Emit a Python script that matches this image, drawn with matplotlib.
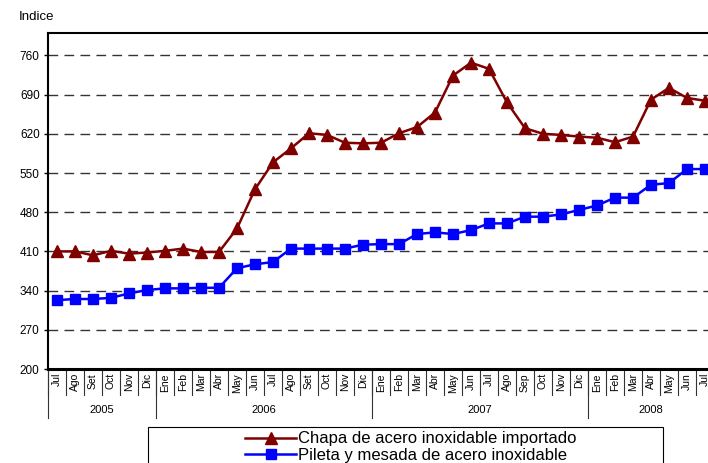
import numpy as np
import matplotlib
matplotlib.use("Agg")
import matplotlib.pyplot as plt
from matplotlib.lines import Line2D
from matplotlib.patches import Rectangle

plt.rcParams["font.family"] = ["Liberation Sans", "DejaVu Sans"]

# ── Data ─────────────────────────────────────────────────────────────────────
months = ["Jul", "Ago", "Set", "Oct", "Nov", "Dic",
          "Ene", "Feb", "Mar", "Abr", "May", "Jun", "Jul", "Ago", "Set", "Oct", "Nov", "Dic",
          "Ene", "Feb", "Mar", "Abr", "May", "Jun", "Jul", "Ago", "Sep", "Oct", "Nov", "Dic",
          "Ene", "Feb", "Mar", "Abr", "May", "Jun", "Jul"]
years = ["2005", "2006", "2007", "2008"]
year_counts = [6, 12, 12, 7]

chapa = [410, 410, 403, 411, 406, 408,
         411, 415, 409, 409, 451, 521, 569, 594, 621, 618, 604, 603,
         604, 621, 632, 658, 724, 747, 736, 676, 630, 620, 618, 615,
         613, 605, 615, 681, 702, 684, 679]
pileta = [323, 325, 325, 327, 335, 341,
          344, 344, 345, 345, 380, 387, 391, 415, 415, 415, 415, 422,
          423, 423, 441, 444, 441, 448, 460, 460, 472, 472, 476, 484,
          492, 506, 506, 529, 532, 557, 557]

label_chapa = "Chapa de acero inoxidable importado"
label_pileta = "Pileta y mesada de acero inoxidable"

RED = "#800000"
BLUE = "#0000FF"

# ── Figure ───────────────────────────────────────────────────────────────────
W, H = 708, 463
fig = plt.figure(figsize=(W / 100, H / 100), dpi=100)
# plot area runs past the right edge like the original (cropped)
ax = fig.add_axes([48 / W, 1 - 369 / H, 666 / W, 336 / H])

x = np.arange(len(months))
ax.plot(x, chapa, color=RED, lw=1.8, marker="^", markersize=8, zorder=3)
ax.plot(x, pileta, color=BLUE, lw=1.8, marker="s", markersize=6.5, zorder=3)

ax.set_xlim(-0.5, len(months) - 0.5)
ax.set_ylim(200, 800)
ax.set_yticks(np.arange(200, 761, 70))
ax.tick_params(axis="y", direction="out", length=3, width=1, labelsize=8.5, pad=3)
ax.yaxis.grid(True, color="#333333", lw=1, linestyle=(0, (7, 4.5)))
ax.set_axisbelow(True)
ax.set_xticks([])

for side in ["left", "top", "right"]:
    ax.spines[side].set_linewidth(1.5)
ax.spines["bottom"].set_linewidth(2.2)

# month labels and separators under the axis
tr = ax.get_xaxis_transform()
for i, m in enumerate(months):
    ax.text(i, -0.012, m, transform=tr, rotation=90, ha="center", va="top",
            fontsize=7.5)
for b in np.arange(-0.5, len(months) - 0.5, 1.0):
    ax.add_line(Line2D([b, b], [0, -0.077], transform=tr, color="#333333",
                       lw=0.8, clip_on=False))

start = -0.5
for yr, n in zip(years, year_counts):
    ax.add_line(Line2D([start, start], [0, -0.146], transform=tr, color="#333333",
                       lw=0.8, clip_on=False))
    ax.text(start + n / 2, -0.122, yr, transform=tr, ha="center", va="center",
            fontsize=8)
    start += n

fig.text(19 / W, 1 - 17 / H, "Indice", ha="left", va="center", fontsize=9.5)

# legend box (cropped at the bottom in the original)
fig.patches.append(Rectangle((148 / W, -0.05), (663 - 148) / W, 1 - 427 / H + 0.05,
                             transform=fig.transFigure, fill=False,
                             edgecolor="black", lw=0.8))
handles = [Line2D([], [], color=RED, lw=1.8, marker="^", markersize=8),
           Line2D([], [], color=BLUE, lw=1.8, marker="s", markersize=6.5)]
fig.legend(handles, [label_chapa, label_pileta], loc="upper left",
           bbox_to_anchor=(243 / W, 1 - 429 / H), frameon=False, fontsize=12,
           handlelength=3.0, handletextpad=0.15, labelspacing=0.08,
           borderpad=0.15, borderaxespad=0)

fig.savefig("out.png", dpi=100)
